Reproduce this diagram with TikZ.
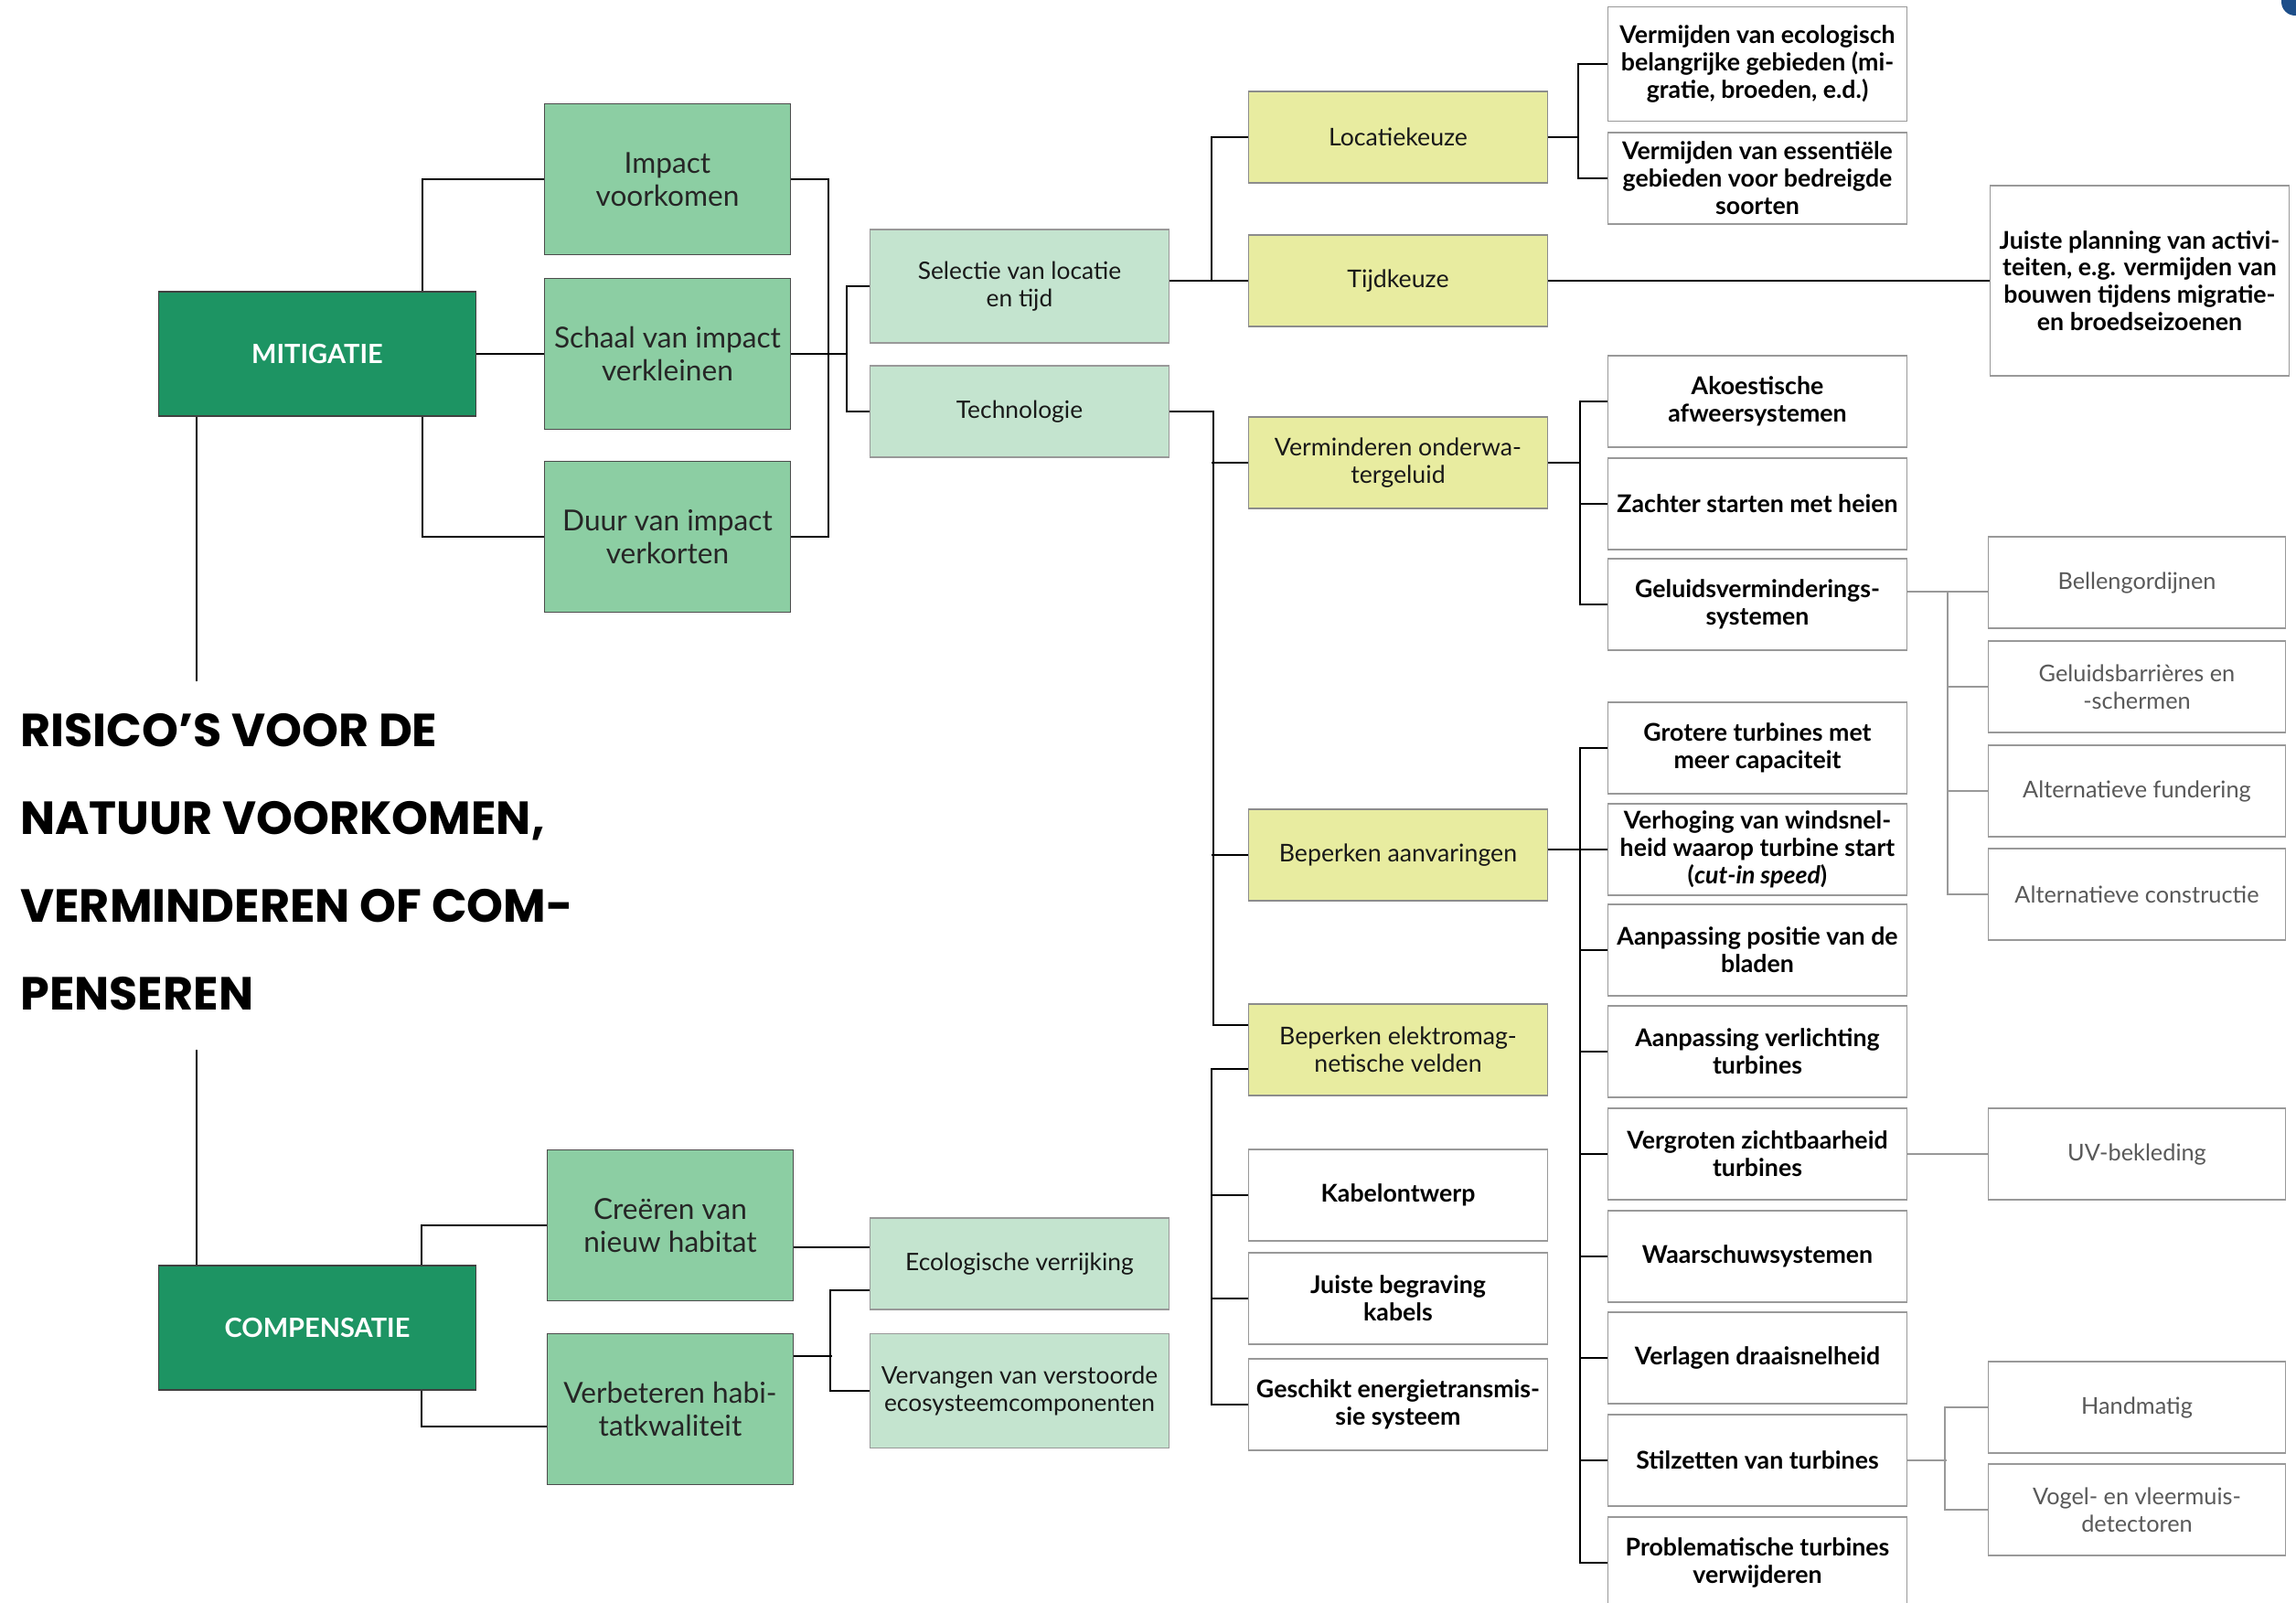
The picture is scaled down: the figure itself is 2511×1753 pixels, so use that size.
\documentclass[tikz,border=0pt]{standalone}
\usepackage{fontspec}
\setmainfont{Lato}
\newfontfamily\titlefont{Poppins}
\usetikzlibrary{calc}

\definecolor{dkgreen}{HTML}{1D9463}
\definecolor{mdgreen}{HTML}{8CCEA3}
\definecolor{ltgreen}{HTML}{C4E4CF}
\definecolor{geel}{HTML}{E8ECA0}
\definecolor{cornerblue}{HTML}{1D4E89}

\pgfdeclarelayer{background}
\pgfsetlayers{background,main}

\tikzset{
  hoofd/.style={draw=black!75, line width=0.8pt, fill=dkgreen, text=white, align=center,
    minimum width=69.4mm, minimum height=27.2mm, font=\fontsize{16.5}{19}\selectfont\bfseries},
  doel/.style={draw=black!70, line width=0.8pt, fill=mdgreen, text=black!85, align=center,
    minimum width=53.8mm, minimum height=33mm, font=\fontsize{18}{20.5}\selectfont},
  aanpak/.style={draw=black!40, line width=0.8pt, fill=ltgreen, text=black!90, align=center,
    minimum width=65.4mm, minimum height=20mm, font=\fontsize{15}{17.2}\selectfont},
  thema/.style={draw=black!45, line width=0.8pt, fill=geel, text=black!90, align=center,
    minimum width=65.4mm, minimum height=20mm, font=\fontsize{15.2}{17.2}\selectfont},
  maatregel/.style={draw=black!40, line width=0.8pt, fill=white, text=black, align=center,
    minimum width=65.4mm, minimum height=20mm, font=\fontsize{15.2}{17}\selectfont\bfseries},
  detail/.style={draw=black!40, line width=0.8pt, fill=white, text=black!65, align=center,
    minimum width=65mm, minimum height=20mm, font=\fontsize{14.4}{17}\selectfont},
  link/.style={line width=1.3pt, black},
  dunlink/.style={line width=0.8pt, black!40},
}

\begin{document}
\begin{tikzpicture}[x=0.2mm, y=-0.2mm]
\useasboundingbox (0,0) rectangle (2511,1753);
\fill[cornerblue, rounded corners=3mm] (2495,-30) rectangle (2540,17);

% hoofdstammen
\node[hoofd] (mitigatie) at (347,387) {MITIGATIE};
\node[hoofd] (compensatie) at (347,1452) {COMPENSATIE};
\node[anchor=west, inner sep=0pt, align=left, font=\titlefont\fontsize{28.9}{54.6}\selectfont\bfseries] (titel) at (22,943)
  {RISICO’S VOOR DE\\NATUUR VOORKOMEN,\\VERMINDEREN OF COM-\\PENSEREN};
\coordinate (mTop) at (215,745);
\coordinate (cTop) at (215,1148);

% doelen
\node[doel] (impact) at (730,196) {Impact\\voorkomen};
\node[doel] (schaal) at (730,387) {Schaal van impact\\verkleinen};
\node[doel] (duur) at (730,587) {Duur van impact\\verkorten};
\node[doel] (creeren) at (733,1340) {Creëren van\\nieuw habitat};
\node[doel] (verbeteren) at (733,1541) {Verbeteren habi-\\tatkwaliteit};

% aanpak
\node[aanpak, minimum height=24.8mm] (selectie) at (1115,313) {Selectie van locatie\\en tijd};
\node[aanpak] (technologie) at (1115,450) {Technologie};
\node[aanpak] (ecologisch) at (1115,1382) {Ecologische verrijking};
\node[aanpak, minimum height=25mm] (vervangen) at (1115,1521) {Vervangen van verstoorde\\ecosysteemcomponenten};

% thema's
\node[thema] (locatiekeuze) at (1529,150) {Locatiekeuze};
\node[thema] (tijdkeuze) at (1529,307) {Tijdkeuze};
\node[thema] (verminderen) at (1529,506) {Verminderen onderwa-\\tergeluid};
\node[thema] (aanvaringen) at (1529,935) {Beperken aanvaringen};
\node[thema] (elektromag) at (1529,1148) {Beperken elektromag-\\netische velden};
\node[maatregel] (kabel) at (1529,1307) {Kabelontwerp};
\node[maatregel] (begraving) at (1529,1420) {Juiste begraving\\kabels};
\node[maatregel] (geschikt) at (1529,1536) {Geschikt energietransmis-\\sie systeem};

% maatregelen
\node[maatregel, minimum height=25mm] (vermijdenEco) at (1922,70) {Vermijden van ecologisch\\belangrijke gebieden (mi-\\gratie, broeden, e.d.)};
\node[maatregel] (vermijdenEss) at (1922,195) {Vermijden van essentiële\\gebieden voor bedreigde\\soorten};
\node[maatregel] (akoestisch) at (1922,439) {Akoestische\\afweersystemen};
\node[maatregel] (zachter) at (1922,551) {Zachter starten met heien};
\node[maatregel] (geluidsverm) at (1922,661) {Geluidsverminderings-\\systemen};
\node[maatregel] (grotere) at (1922,818) {Grotere turbines met\\meer capaciteit};
\node[maatregel] (verhoging) at (1922,929) {Verhoging van windsnel-\\heid waarop turbine start\\(\textit{cut-in speed})};
\node[maatregel] (positie) at (1922,1039) {Aanpassing positie van de\\bladen};
\node[maatregel] (verlichting) at (1922,1150) {Aanpassing verlichting\\turbines};
\node[maatregel] (vergroten) at (1922,1262) {Vergroten zichtbaarheid\\turbines};
\node[maatregel] (waarschuw) at (1922,1374) {Waarschuwsystemen};
\node[maatregel] (verlagen) at (1922,1485) {Verlagen draaisnelheid};
\node[maatregel] (stilzetten) at (1922,1597) {Stilzetten van turbines};
\node[maatregel] (problematisch) at (1922,1709) {Problematische turbines\\verwijderen};

% details
\node[maatregel, minimum height=41.6mm] (planning) at (2340,307) {Juiste planning van activi-\\teiten, e.g. vermijden van\\bouwen tijdens migratie-\\en broedseizoenen};
\node[detail] (bellen) at (2337,637) {Bellengordijnen};
\node[detail] (barrieres) at (2337,751) {Geluidsbarrières en\\-schermen};
\node[detail] (fundering) at (2337,865) {Alternatieve fundering};
\node[detail] (constructie) at (2337,978) {Alternatieve constructie};
\node[detail] (uv) at (2337,1262) {UV-bekleding};
\node[detail] (handmatig) at (2337,1539) {Handmatig};
\node[detail] (vogel) at (2337,1651) {Vogel- en vleermuis-\\detectoren};

\coordinate (bellenIn) at ([yshift=-2mm]bellen.west);
\coordinate (ecoIn) at ([yshift=3.6mm]ecologisch.west);

\begin{pgfonlayer}{background}
\draw[link] (mTop) -- (mTop |- mitigatie.south);
\draw[link] (cTop) -- (cTop |- compensatie.north);
\draw[link] (mitigatie.east) -- (schaal.west);
\draw[link] (impact.west) -- ++(-133,0) |- (duur.west);
\draw[link] (impact.east) -- ++(41,0) |- (duur.east);
\draw[link] (schaal.east) -- ++(61,0);
\draw[link] (selectie.west) -- ++(-25,0) |- (technologie.west);
\draw[link] (selectie.east |- tijdkeuze.west) -- (tijdkeuze.west);
\draw[link] (locatiekeuze.west) -- ++(-40,0) |- (tijdkeuze.west);
\draw[link] (technologie.east) -- ++(48,0) |- ([yshift=5.4mm]elektromag.west);
\draw[link] (verminderen.west) -- ++(-40,0);
\draw[link] (aanvaringen.west) -- ++(-40,0);
\draw[link] ([yshift=-4.2mm]elektromag.west) -- ++(-40,0) |- (geschikt.west);
\draw[link] (kabel.west) -- ++(-40,0);
\draw[link] (begraving.west) -- ++(-40,0);
\draw[link] (locatiekeuze.east) -- ++(33,0);
\draw[link] (vermijdenEco.west) -- ++(-32,0) |- (vermijdenEss.west);
\draw[link] (tijdkeuze.east) -- (planning.west);
\draw[link] (verminderen.east) -- ++(35,0);
\draw[link] (akoestisch.west) -- ++(-30,0) |- (geluidsverm.west);
\draw[link] (zachter.west) -- ++(-30,0);
\draw[link] (aanvaringen.east |- verhoging.west) -- (verhoging.west);
\draw[link] (grotere.west) -- ++(-30,0) |- (problematisch.west);
\foreach \m in {positie,verlichting,vergroten,waarschuw,verlagen,stilzetten}
  \draw[link] (\m.west) -- ++(-30,0);
\draw[link] (creeren.west) -- ++(-137,0) |- ([yshift=-3.8mm]verbeteren.west);
\draw[link] (creeren.east |- ecoIn) -- (ecoIn);
\draw[link] ([yshift=-5.8mm]ecologisch.west) -- ++(-43,0) |- (vervangen.west);
\draw[link] ([yshift=11.6mm]verbeteren.east) -- ++(42,0);
% dunne lijnen
\draw[dunlink] (geluidsverm.east |- bellenIn) -- (bellenIn);
\draw[dunlink] (bellenIn) -- ++(-44,0) |- (constructie.west);
\draw[dunlink] (barrieres.west) -- ++(-44,0);
\draw[dunlink] (fundering.west) -- ++(-44,0);
\draw[dunlink] (vergroten.east) -- (uv.west);
\draw[dunlink] (stilzetten.east) -- ++(43,0);
\draw[dunlink] (handmatig.west) -- ++(-47,0) |- (vogel.west);
\end{pgfonlayer}
\end{tikzpicture}
\end{document}
